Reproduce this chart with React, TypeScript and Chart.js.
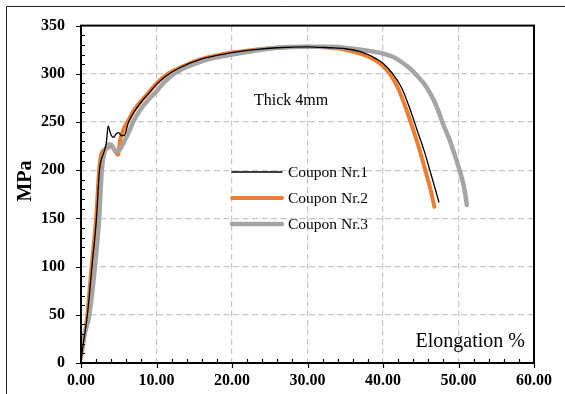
import { useEffect, useRef } from "react";
import { Chart, registerables } from "chart.js";

Chart.register(...registerables);

// ---- Data ----
const seriesNames = ["Coupon Nr.1", "Coupon Nr.2", "Coupon Nr.3"];
const seriesColors = ["#000000", "#ED7D31", "#A5A5A5"];
const seriesWidths = [1.3, 4, 4.5];

const coupon1X = [0, 0.3, 0.85, 1.45, 2.05, 2.45, 3.0, 3.35, 3.6, 3.9, 4.3, 4.7, 5.0, 5.3, 5.7, 6.3, 7.0, 8.0, 9.0, 10.0, 11.3, 13.0, 15.8, 18.0, 20.0, 23.0, 26.0, 30.0, 33.0, 35.0, 37.0, 38.0, 39.0, 40.0, 41.3, 42.5, 43.5, 44.5, 45.5, 46.2, 46.9, 47.4];
const coupon1Y = [2, 20, 50, 100, 150, 200, 218, 228, 246, 238, 234, 238, 239, 236, 236, 250, 260, 271, 280, 289, 298, 306, 315, 319, 322, 325, 327, 328, 327, 326, 323, 320, 316, 311, 300, 285, 265, 242, 219, 200, 181, 167];

const coupon2X = [0, 0.3, 0.84, 1.4, 2.0, 2.4, 2.75, 3.3, 4.0, 4.5, 4.9, 5.2, 5.6, 6.3, 7.0, 8.0, 9.0, 10.0, 11.3, 13.0, 15.8, 18.0, 20.0, 23.0, 26.0, 30.0, 33.0, 35.0, 37.0, 38.0, 39.0, 40.0, 41.0, 42.0, 43.0, 44.0, 45.0, 45.6, 46.3, 46.8];
const coupon2Y = [5, 20, 50, 100, 150, 200, 218, 222, 225, 220, 216, 232, 242, 252, 262, 272, 281, 290, 299, 306, 315, 319, 322, 325, 327, 328, 327, 325, 321, 318, 314, 308, 299, 285, 265, 242, 217, 200, 180, 162];

const coupon3X = [0, 0.4, 1.1, 1.85, 2.4, 2.75, 3.1, 3.6, 3.9, 4.3, 4.7, 5.2, 5.6, 6.3, 6.9, 7.8, 8.7, 10.0, 11.0, 12.3, 14.0, 16.0, 18.0, 20.0, 23.0, 26.0, 30.0, 33.0, 36.0, 38.0, 40.0, 41.5, 42.5, 43.5, 44.5, 45.3, 46.0, 46.7, 47.3, 47.9, 48.8, 49.5, 50.1, 50.6, 50.9, 51.1];
const coupon3Y = [12, 28, 50, 100, 150, 200, 218, 226, 227, 223, 219, 222, 228, 239, 250, 262, 271, 282, 291, 300, 307, 313, 317, 320, 324, 327, 328, 328, 326, 324, 321, 317, 312, 306, 298, 291, 283, 273, 262, 249, 232, 216, 201, 187, 175, 164];

const xMin = 0;
const xMax = 60;
const xStep = 10;
const xMinorStep = 2;
const yMin = 0;
const yMax = 350;
const yStep = 50;
const yMinorStep = 10;

const annotationText = "Thick 4mm";
const xTitle = "Elongation %";
const yTitle = "MPa";

const SERIF = "'Liberation Serif', 'Times New Roman', serif";

function toPoints(xs: number[], ys: number[]) {
  return xs.map((x, i) => ({ x, y: ys[i] }));
}

const decorPlugin = {
  id: "decor",
  afterDraw(chart: any) {
    const { ctx, chartArea, scales } = chart;
    const xs = scales.x;
    const ys = scales.y;
    const { left, right, top, bottom } = chartArea;
    ctx.save();

    // outer frame
    ctx.strokeStyle = "#222";
    ctx.lineWidth = 1;
    ctx.beginPath();
    ctx.moveTo(6.5, 394);
    ctx.lineTo(6.5, 6.5);
    ctx.lineTo(565, 6.5);
    ctx.stroke();

    // plot border
    ctx.strokeStyle = "#000";
    ctx.lineWidth = 2;
    ctx.strokeRect(left, top, right - left, bottom - top);

    // ticks
    ctx.lineWidth = 1.2;
    ctx.beginPath();
    for (let v = yMin; v <= yMax + 1e-6; v += yMinorStep) {
      const py = Math.round(ys.getPixelForValue(v)) + 0.5;
      if (v % yStep === 0) {
        ctx.moveTo(left - 5, py);
        ctx.lineTo(left, py);
      } else {
        ctx.moveTo(left, py);
        ctx.lineTo(left + 4, py);
      }
    }
    for (let v = xMin; v <= xMax + 1e-6; v += xMinorStep) {
      const px = Math.round(xs.getPixelForValue(v)) + 0.5;
      if (v % xStep === 0) {
        ctx.moveTo(px, bottom);
        ctx.lineTo(px, bottom + 5);
      } else {
        ctx.moveTo(px, bottom);
        ctx.lineTo(px, bottom - 4);
      }
    }
    ctx.stroke();

    // texts
    ctx.fillStyle = "#000";
    ctx.textBaseline = "middle";
    ctx.textAlign = "left";
    ctx.font = `16px ${SERIF}`;
    ctx.fillText(annotationText, 254, 101);

    ctx.font = `20px ${SERIF}`;
    ctx.textAlign = "right";
    ctx.fillText(xTitle, 525, 342);

    ctx.save();
    ctx.translate(26, 181);
    ctx.rotate(-Math.PI / 2);
    ctx.textAlign = "center";
    ctx.font = `bold 20px ${SERIF}`;
    ctx.fillText(yTitle, 0, 0);
    ctx.restore();

    // legend
    const legendY = [172, 198, 224];
    ctx.font = `15.5px ${SERIF}`;
    ctx.textAlign = "left";
    seriesNames.forEach((name, i) => {
      ctx.strokeStyle = seriesColors[i];
      ctx.lineWidth = seriesWidths[i];
      ctx.lineCap = "round";
      ctx.beginPath();
      ctx.moveTo(232, legendY[i]);
      ctx.lineTo(282, legendY[i]);
      ctx.stroke();
      ctx.fillStyle = "#000";
      ctx.fillText(name, 288, legendY[i] + 1);
    });

    ctx.restore();
  },
};

export default function App() {
  const canvasRef = useRef<HTMLCanvasElement | null>(null);

  useEffect(() => {
    if (!canvasRef.current) return;
    const datasets = [
      { xs: coupon1X, ys: coupon1Y, order: 1 },
      { xs: coupon2X, ys: coupon2Y, order: 3 },
      { xs: coupon3X, ys: coupon3Y, order: 2 },
    ].map((d, i) => ({
      label: seriesNames[i],
      data: toPoints(d.xs, d.ys),
      borderColor: seriesColors[i],
      backgroundColor: seriesColors[i],
      borderWidth: seriesWidths[i],
      pointRadius: 0,
      cubicInterpolationMode: "monotone" as const,
      borderCapStyle: "round" as const,
      borderJoinStyle: "round" as const,
      fill: false,
      order: d.order,
    }));

    const gridColor = (skipA: number, skipB: number) => (c: any) =>
      c.tick && (c.tick.value === skipA || c.tick.value === skipB) ? "rgba(0,0,0,0)" : "#c6c6c6";

    const chart = new Chart(canvasRef.current, {
      type: "line",
      data: { datasets },
      plugins: [decorPlugin],
      options: {
        animation: false,
        responsive: false,
        maintainAspectRatio: false,
        layout: { padding: { top: 16, right: 31, left: 0, bottom: 0 } },
        plugins: {
          legend: { display: false },
          tooltip: { enabled: false },
          title: { display: false },
        },
        scales: {
          x: {
            type: "linear",
            min: xMin,
            max: xMax,
            afterFit: (s: any) => {
              s.height = 31;
            },
            ticks: {
              stepSize: xStep,
              callback: (v: any) => Number(v).toFixed(2),
              color: "#000",
              padding: 8,
              maxRotation: 0,
              font: { family: SERIF, size: 16, weight: "bold" },
            },
            grid: {
              drawTicks: false,
              color: gridColor(xMin, xMax),
              lineWidth: 1.2,
            },
            border: { display: false, dash: [6, 3.5] },
          },
          y: {
            type: "linear",
            min: yMin,
            max: yMax,
            afterFit: (s: any) => {
              s.width = 81;
            },
            ticks: {
              stepSize: yStep,
              color: "#000",
              padding: 16,
              font: { family: SERIF, size: 16, weight: "bold" },
            },
            grid: {
              drawTicks: false,
              color: gridColor(yMin, yMax),
              lineWidth: 1.2,
            },
            border: { display: false, dash: [6, 3.5] },
          },
        },
      } as any,
    });
    return () => chart.destroy();
  }, []);

  return (
    <div
      style={{
        position: "fixed",
        left: 0,
        top: 0,
        width: 565,
        height: 394,
        background: "#fff",
      }}
    >
      <canvas ref={canvasRef} width={565} height={394} style={{ display: "block" }} />
    </div>
  );
}
